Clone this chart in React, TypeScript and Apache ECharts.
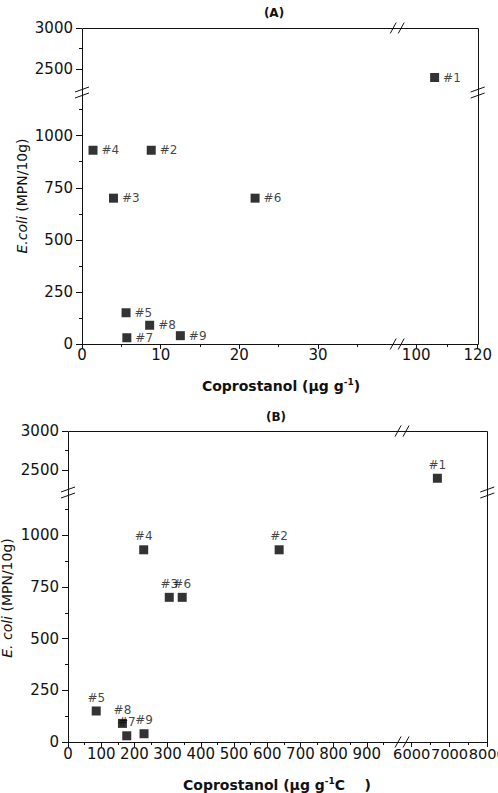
import React, { useEffect, useRef } from "react";
import * as echarts from "echarts";

// ---- data ----
const samples = ["#1", "#2", "#3", "#4", "#5", "#6", "#7", "#8", "#9"];
const ecoli = [2400, 930, 700, 930, 150, 700, 30, 90, 40];
const coprostanolA = [106, 8.8, 4.0, 1.4, 5.6, 22, 5.7, 8.6, 12.5];
const coprostanolB = [6680, 636, 305, 228, 85, 344, 177, 164, 229];

// ---- tick labels ----
const yLowerMajor = [0, 250, 500, 750, 1000];
const yLowerMinor = [125, 375, 625, 875, 1125];
const yUpperMajor = [2500, 3000];
const yUpperMinor = [2750];
const xALeftMajor = [0, 10, 20, 30];
const xALeftMinor = [5, 15, 25, 35];
const xARightMajor = [100, 120];
const xARightMinor = [110];
const xBLeftMajor = [0, 100, 200, 300, 400, 500, 600, 700, 800, 900];
const xBLeftMinor = [50, 150, 250, 350, 450, 550, 650, 750, 850, 950];
const xBRightMajor = [6000, 7000, 8000];
const xBRightMinor = [6500, 7500];

const FONT = "DejaVu Sans";
const INK = "#111";

type Seg = { min: number; max: number; px: number; size: number; major: number[]; minor: number[]; fs?: number };
type Panel = {
  xs: number[];
  names: string[];
  xSegs: Seg[];
  ySegs: Seg[]; // [lower, upper]
  labelPos: "right" | "top";
  front: string[];
  xLabelMargin: number;
};

const panels: Panel[] = [
  {
    xs: coprostanolA,
    names: samples,
    xSegs: [
      { min: 0, max: 40, px: 82, size: 314.7, major: xALeftMajor, minor: xALeftMinor },
      { min: 94, max: 120, px: 397.7, size: 80, major: xARightMajor, minor: xARightMinor },
    ],
    ySegs: [
      { min: 0, max: 1200, px: 94, size: 250, major: yLowerMajor, minor: yLowerMinor },
      { min: 2200, max: 3000, px: 28, size: 66, major: yUpperMajor, minor: yUpperMinor },
    ],
    labelPos: "right",
    front: [],
    xLabelMargin: 3,
  },
  {
    xs: coprostanolB,
    names: samples,
    xSegs: [
      { min: 0, max: 1000, px: 68, size: 332, major: xBLeftMajor, minor: xBLeftMinor },
      { min: 5800, max: 8000, px: 404.1, size: 83.2, major: xBRightMajor, minor: xBRightMinor, fs: 14.6 },
    ],
    ySegs: [
      { min: 0, max: 1200, px: 494, size: 248, major: yLowerMajor, minor: yLowerMinor },
      { min: 2200, max: 3000, px: 431, size: 63, major: yUpperMajor, minor: yUpperMinor },
    ],
    labelPos: "top",
    front: ["#8"],
    xLabelMargin: 4,
  },
];

function buildOption() {
  const grid: any[] = [];
  const xAxis: any[] = [];
  const yAxis: any[] = [];
  const series: any[] = [];
  const graphic: any[] = [];

  const tickLine = { color: INK, width: 1 };
  const labelStyle = {
    fontFamily: FONT, fontSize: 15, color: INK,
    showMinLabel: true, showMaxLabel: true, hideOverlap: false,
  };

  panels.forEach((p) => {
    p.xSegs.forEach((xs, xi) => {
      p.ySegs.forEach((ys, yi) => {
        const g = grid.length;
        grid.push({
          left: xs.px, top: ys.px, width: xs.size, height: ys.size,
          containLabel: false, outerBoundsMode: "none",
        });
        const showX = yi === 0;
        const showY = xi === 0;
        const xMain = xAxis.length;
        xAxis.push({
          type: "value", gridIndex: g, min: xs.min, max: xs.max, position: "bottom",
          splitLine: { show: false }, axisLine: { show: false },
          axisTick: { show: showX, customValues: xs.major, length: 5, lineStyle: tickLine },
          axisLabel: {
            show: showX, customValues: xs.major, formatter: (v: number) => String(v), margin: p.xLabelMargin,
            ...labelStyle, fontSize: xs.fs ?? 15,
          },
        });
        xAxis.push({
          type: "value", gridIndex: g, min: xs.min, max: xs.max, position: "bottom",
          splitLine: { show: false }, axisLine: { show: false },
          axisTick: { show: showX, customValues: xs.minor, length: 3, lineStyle: tickLine },
          axisLabel: { show: false },
        });
        const yMain = yAxis.length;
        yAxis.push({
          type: "value", gridIndex: g, min: ys.min, max: ys.max, position: "left",
          splitLine: { show: false }, axisLine: { show: false },
          axisTick: { show: showY, customValues: ys.major, length: 6, lineStyle: tickLine },
          axisLabel: { show: showY, customValues: ys.major, formatter: (v: number) => String(v), margin: 9, ...labelStyle },
        });
        yAxis.push({
          type: "value", gridIndex: g, min: ys.min, max: ys.max, position: "left",
          splitLine: { show: false }, axisLine: { show: false },
          axisTick: { show: showY, customValues: ys.minor, length: 3, lineStyle: tickLine },
          axisLabel: { show: false },
        });
        const inSeg = (i: number) =>
          p.xs[i] >= xs.min && p.xs[i] <= xs.max && ecoli[i] >= ys.min && ecoli[i] <= ys.max;
        const mk = (i: number) => ({ value: [p.xs[i], ecoli[i]], name: p.names[i] });
        const back: any[] = [];
        const fr: any[] = [];
        p.names.forEach((n, i) => {
          if (!inSeg(i)) return;
          (p.front.includes(n) ? fr : back).push(mk(i));
        });
        const common = {
          type: "scatter", xAxisIndex: xMain, yAxisIndex: yMain,
          symbol: "rect", symbolSize: 9, itemStyle: { color: "#000" },
          label: {
            show: true, position: p.labelPos, distance: p.labelPos === "right" ? 4 : 3,
            formatter: "{b}", fontFamily: FONT, fontSize: 12, color: INK,
          },
          clip: false,
        };
        if (back.length) series.push({ ...common, z: 2, data: back });
        if (fr.length) series.push({ ...common, z: 3, data: fr });
      });
    });

    // frame
    const left = p.xSegs[0].px;
    const right = p.xSegs[1].px + p.xSegs[1].size;
    const top = p.ySegs[1].px;
    const bottom = p.ySegs[0].px + p.ySegs[0].size;
    graphic.push({
      type: "rect", shape: { x: Math.round(left) + 0.5, y: Math.round(top) + 0.5, width: Math.round(right) - Math.round(left), height: Math.round(bottom) - Math.round(top) },
      style: { fill: "none", stroke: INK, lineWidth: 1 }, z: 10, silent: true,
    });
    // break marks
    const xb = (p.xSegs[0].px + p.xSegs[0].size + p.xSegs[1].px) / 2;
    const yb = p.ySegs[0].px - 1.5;
    [top, bottom].forEach((yy) => {
      [-4, 4].forEach((d) => {
        graphic.push({
          type: "line", shape: { x1: xb + d - 3, y1: yy + 5.5, x2: xb + d + 3, y2: yy - 5.5 },
          style: { stroke: INK, lineWidth: 1 }, z: 11, silent: true,
        });
      });
    });
    [left, right].forEach((xx) => {
      [-3, 3].forEach((d) => {
        graphic.push({
          type: "line", shape: { x1: xx - 7, y1: yb + d + 2.5, x2: xx + 7, y2: yb + d - 2.5 },
          style: { stroke: INK, lineWidth: 1 }, z: 11, silent: true,
        });
      });
    });
  });

  const titleStyle = { fontFamily: FONT, fontWeight: "bold", fontSize: 12, fill: INK, align: "center", verticalAlign: "middle" };
  graphic.push({ type: "text", x: 274, y: 13, style: { text: "(A)", ...titleStyle } });
  graphic.push({ type: "text", x: 276, y: 417, style: { text: "(B)", ...titleStyle } });

  const xTitle = (x: number, y: number, text: string) => ({
    type: "text", x, y,
    style: {
      text, fontFamily: FONT, fontWeight: "bold", fontSize: 14, fill: INK, align: "center", verticalAlign: "middle",
      rich: {
        b: { fontFamily: FONT, fontWeight: "bold", fontSize: 14, fill: INK, lineHeight: 18 },
        s: { fontFamily: FONT, fontWeight: "bold", fontSize: 9, fill: INK, verticalAlign: "top", lineHeight: 18, padding: [0, 0, 8, 0] },
      },
    },
  });
  graphic.push(xTitle(281, 386, "{b|Coprostanol (μg g}{s|-1}{b|)}"));
  graphic.push(xTitle(277, 785, "{b|Coprostanol (μg g}{s|-1}{b|C    )}"));

  const yTitle = (x: number, y: number, text: string) => ({
    type: "text", x, y, rotation: Math.PI / 2,
    style: {
      text, fontFamily: FONT, fontSize: 14, fill: INK, align: "center", verticalAlign: "middle",
      rich: {
        i: { fontFamily: FONT, fontStyle: "italic", fontSize: 14, fill: INK },
        n: { fontFamily: FONT, fontSize: 14, fill: INK },
      },
    },
  });
  graphic.push(yTitle(22, 196, "{i|E.coli}{n| (MPN/10g)}"));
  graphic.push(yTitle(7, 598, "{i|E. coli}{n| (MPN/10g)}"));

  return { animation: false, backgroundColor: "#fff", grid, xAxis, yAxis, series, graphic };
}

export default function App() {
  const ref = useRef<HTMLDivElement>(null);
  useEffect(() => {
    if (!ref.current) return;
    const chart = echarts.init(ref.current, undefined, { renderer: "svg" });
    chart.setOption(buildOption() as any);
    return () => chart.dispose();
  }, []);
  return <div ref={ref} style={{ position: "absolute", left: 0, top: 0, width: 498, height: 793 }} />;
}
